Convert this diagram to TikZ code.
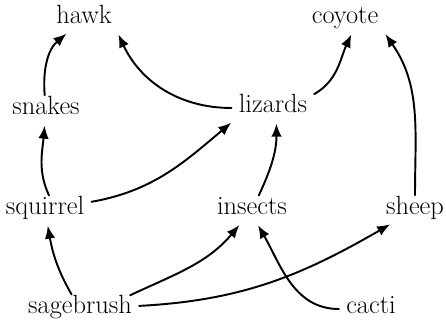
\documentclass[tikz,border=0pt]{standalone}
\usetikzlibrary{arrows.meta}

\begin{document}
\begin{tikzpicture}[
  x=1cm,
  y=1cm,
  font=\fontsize{15}{17}\selectfont,
  line cap=round,
  line join=round,
  species/.style={inner sep=3pt,text height=1.6ex,text depth=0.35ex},
  eats/.style={
    draw=black,
    line width=1.1pt,
    -{Latex[length=2.6mm,width=2.1mm]},
    shorten <=1pt,
    shorten >=1.5pt
  }
]
  \path[use as bounding box] (0,0) rectangle (8.92,6.58);

  % top of the web
  \node[species] (hawk) at (1.68,6.20) {hawk};
  \node[species] (coyote) at (6.90,6.20) {coyote};

  \node[species] (snakes) at (0.92,4.38) {snakes};
  \node[species] (lizards) at (5.46,4.42) {lizards};

  \node[species] (squirrel) at (0.90,2.38) {squirrel};
  \node[species] (insects) at (5.04,2.38) {insects};
  \node[species] (sheep) at (8.30,2.38) {sheep};

  % producers
  \node[species] (sagebrush) at (1.60,0.40) {sagebrush};
  \node[species] (cacti) at (7.42,0.40) {cacti};

  \draw[eats] (snakes) to[out=95,in=220] (hawk);
  \draw[eats] (lizards) to[out=180,in=-65] (hawk.south east);
  \draw[eats] (lizards.north east) to[out=30,in=245] (coyote.-60);
  \draw[eats] (sheep) to[out=90,in=-55] (coyote.south east);

  \draw[eats] (squirrel.70) to[out=115,in=-95] (snakes);
  \draw[eats] (squirrel) to[out=10,in=220] (lizards.south west);
  \draw[eats] (insects) to[out=65,in=-90] (lizards.-75);

  \draw[eats] (sagebrush) to[out=120,in=-80] (squirrel);
  \draw[eats] (sagebrush.15) to[out=25,in=230] (insects);
  \draw[eats] (sagebrush) to[out=3,in=210] (sheep);
  \draw[eats] (cacti) to[out=180,in=-60] (insects.-70);
\end{tikzpicture}
\end{document}
